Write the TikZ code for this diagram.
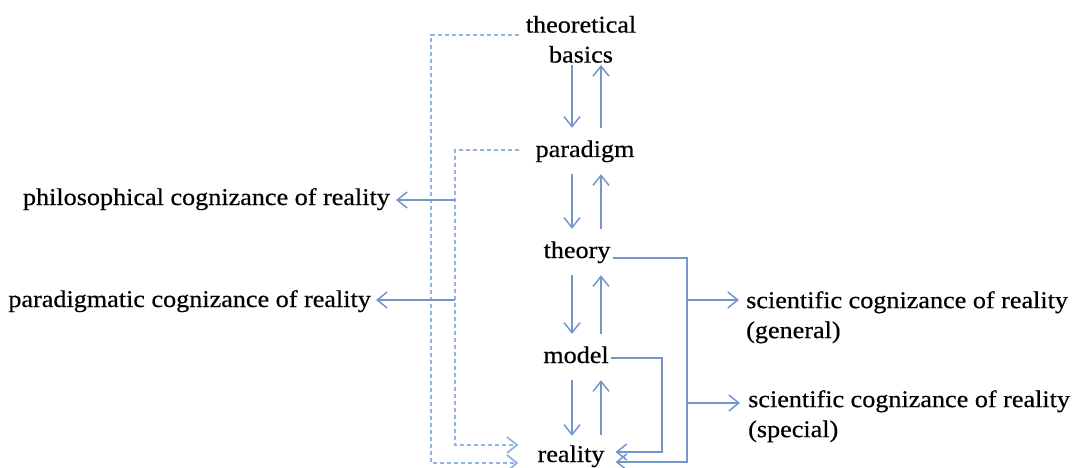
\documentclass[tikz,border=0pt]{standalone}
\usepackage{fontspec}
\setmainfont{Liberation Serif}[FakeStretch=1.09,FakeBold=0.5]
\usetikzlibrary{arrows.meta}
\definecolor{lineblue}{RGB}{115,150,205}
\definecolor{dotblue}{RGB}{150,180,225}
\tikzset{
  txt/.style={font=\fontsize{24}{30}\selectfont, inner xsep=2pt, inner ysep=0pt},
  mid/.style={txt, text height=17pt, text depth=5pt, inner ysep=12pt, anchor=base},
  conn/.style={draw=lineblue, line width=1.5pt, -{Straight Barb[length=10pt,width=16pt,line width=1.5pt]}},
  dotconn/.style={draw=dotblue, line width=2pt, dash pattern=on 4pt off 3pt,
     -{Straight Barb[length=10pt,width=16pt,line width=1.8pt]}}
}
\begin{document}
\begin{tikzpicture}[x=1pt,y=-1pt]
\useasboundingbox (0,0) rectangle (1073,468);
% column guides
\coordinate (dn) at (572,0);
\coordinate (up) at (601,0);
\coordinate (ox) at (431,0);
\coordinate (ix) at (455,0);
\coordinate (rx) at (687,0);
\coordinate (mx) at (662,0);
% nodes
\node[txt, align=center, inner ysep=2pt, anchor=south] (tb) at (581,65) {theoretical\\basics};
\node[mid] (par) at (585,157) {paradigm};
\node[mid] (th) at (577,258) {theory};
\node[mid] (mo) at (576,363) {model};
\node[mid] (re) at (571,462) {reality};
\node[txt, anchor=base east] (phil) at (392,205) {philosophical cognizance of reality};
\node[txt, anchor=base east] (pdm) at (373,307) {paradigmatic cognizance of reality};
\node[txt, align=left, inner xsep=0pt, anchor=north west] (gen) at (746,291) {scientific cognizance of reality\\(general)};
\node[txt, align=left, inner xsep=0pt, anchor=north west] (spe) at (748,390) {scientific cognizance of reality\\(special)};
% vertical arrows
\draw[conn] (tb.south -| dn) -- (par.north -| dn);
\draw[conn] (par.north -| up) -- (tb.south -| up);
\draw[conn] (par.south -| dn) -- (th.north -| dn);
\draw[conn] (th.north -| up) -- (par.south -| up);
\draw[conn] (th.south -| dn) -- (mo.north -| dn);
\draw[conn] (mo.north -| up) -- (th.south -| up);
\draw[conn] (mo.south -| dn) -- ([yshift=-3pt]re.north -| dn);
\draw[conn] ([yshift=-2pt]re.north -| up) -- (mo.south -| up);
% helper points on nodes
\path ([xshift=-5pt,yshift=30pt]tb.south west) coordinate (tbW);
\path ([xshift=-14pt,yshift=7pt]par.base west) coordinate (parW);
\path ([xshift=-17pt,yshift=-1pt]re.base west) coordinate (reW1);
\path ([xshift=-17pt,yshift=17pt]re.base west) coordinate (reW2);
\path ([xshift=9pt,yshift=0pt]re.base east) coordinate (reE1);
\path ([xshift=9pt,yshift=10pt]re.base east) coordinate (reE2);
\path (th.base east) coordinate (thE);
\path ([yshift=5pt]mo.base east) coordinate (moE);
\path ([xshift=4pt,yshift=5pt]phil.base east) coordinate (phT);
\path ([xshift=3pt,yshift=7pt]pdm.base east) coordinate (pdT);
\path ([xshift=-7pt,yshift=-9pt]gen.north west) coordinate (gnT);
\path ([xshift=-8pt,yshift=-13pt]spe.north west) coordinate (spT);
% dotted connectors
\draw[dotconn] (tbW) -- (ox |- tbW) -- (ox |- reW1) -- (reW1);
\draw[dotconn] (parW) -- (ix |- parW) -- (ix |- reW2) -- (reW2);
% left solid arrows
\draw[conn] (ix |- phT) -- (phT);
\draw[conn] (ix |- pdT) -- (pdT);
% right side
\draw[conn] (thE) -- (rx |- thE) -- (rx |- reE1) -- (reE1);
\draw[conn] (moE) -- (mx |- moE) -- (mx |- reE2) -- (reE2);
\draw[conn] (rx |- gnT) -- (gnT);
\draw[conn] (rx |- spT) -- (spT);
\end{tikzpicture}
\end{document}
